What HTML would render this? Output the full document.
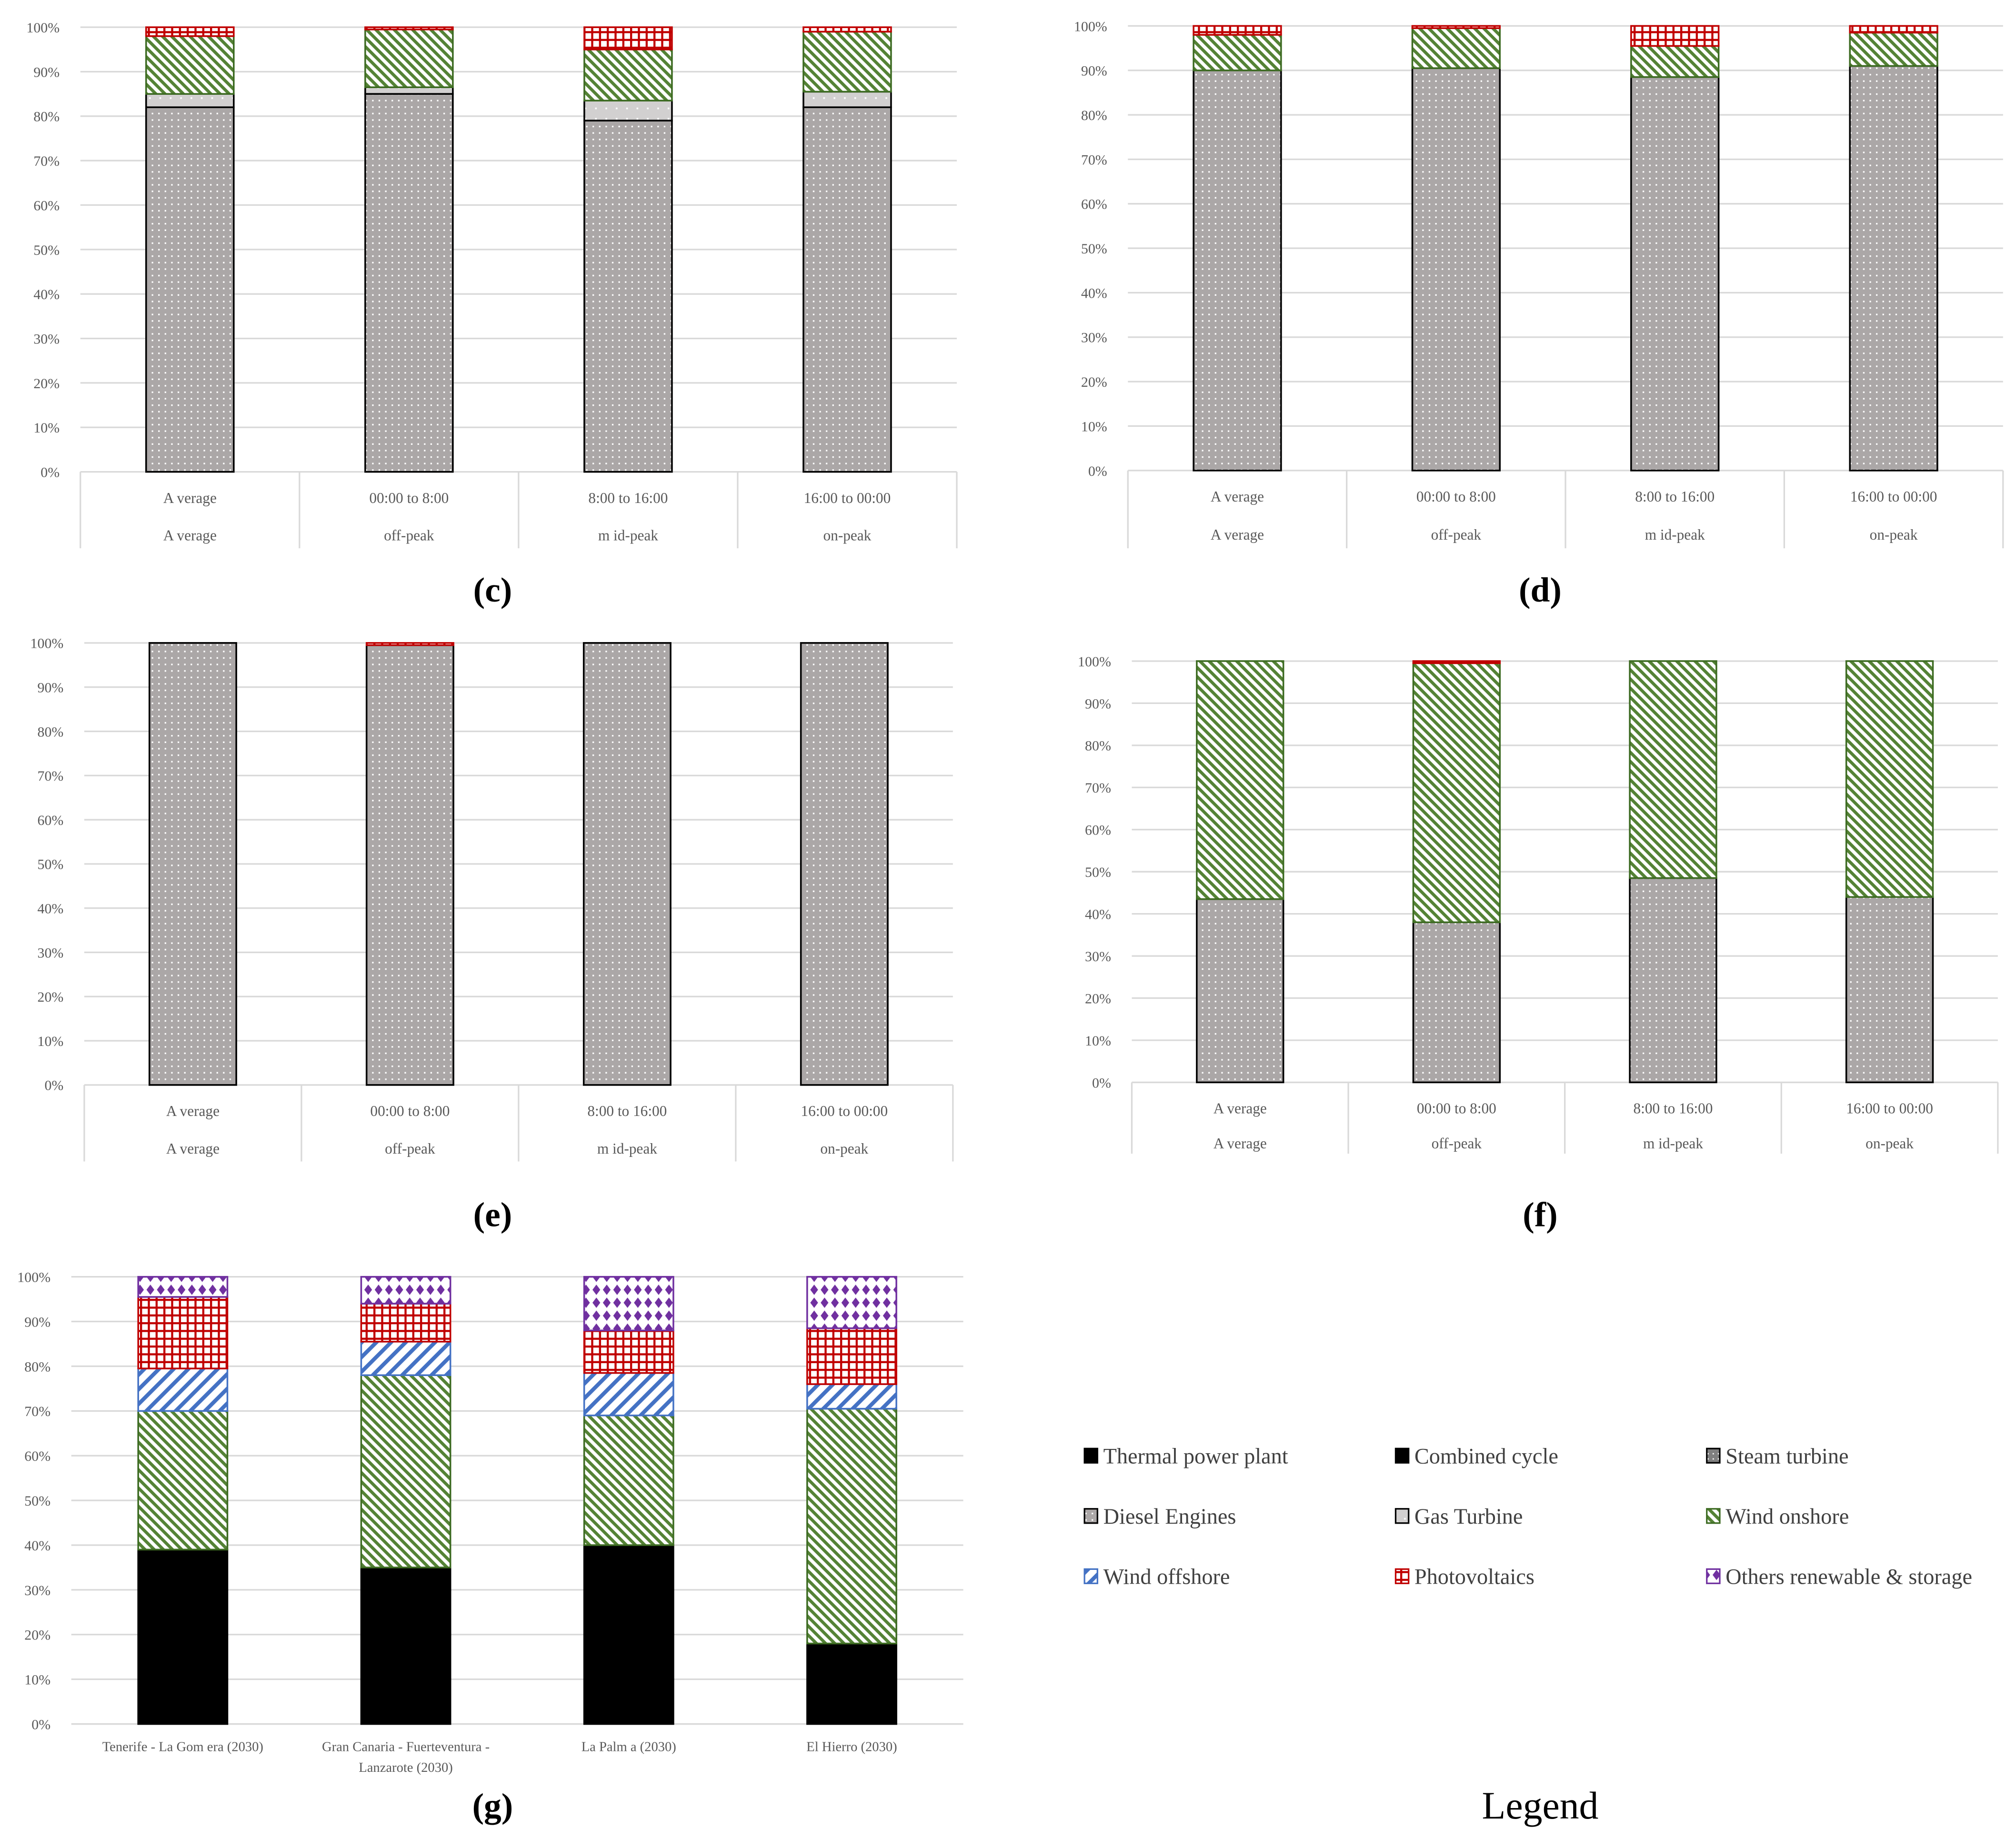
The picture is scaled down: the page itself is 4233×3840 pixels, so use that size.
<!DOCTYPE html>
<html><head><meta charset="utf-8"><style>
html,body{margin:0;padding:0;background:#fff;}
svg{display:block;}
</style></head><body>
<svg id="chart" xmlns="http://www.w3.org/2000/svg" width="4233" height="3840" viewBox="0 0 1555 1411" preserveAspectRatio="none" font-family="'Liberation Serif', serif">
<defs>
<pattern id="p-diesel" patternUnits="userSpaceOnUse" width="5" height="5"><rect width="5" height="5" fill="#aba7a7"/><rect x="2" y="2" width="1.2" height="1.2" fill="#fff"/></pattern>
<pattern id="p-gas" patternUnits="userSpaceOnUse" width="8" height="8"><rect width="8" height="8" fill="#d2d0d0"/><rect x="3" y="3" width="1.3" height="1.3" fill="#fff"/></pattern>
<pattern id="p-wind" patternUnits="userSpaceOnUse" width="5" height="5" patternTransform="rotate(45)"><rect width="5" height="5" fill="#fff"/><rect width="5" height="2.4" fill="#548235"/></pattern>
<pattern id="p-off" patternUnits="userSpaceOnUse" width="8" height="8" patternTransform="rotate(-45)"><rect width="8" height="8" fill="#fff"/><rect width="8" height="3" fill="#4472c4"/></pattern>
<pattern id="p-pv" patternUnits="userSpaceOnUse" width="6" height="6"><rect width="6" height="6" fill="#fff"/><rect width="6" height="1.6" fill="#c00000"/><rect width="1.6" height="6" fill="#c00000"/></pattern>
<pattern id="p-oth" patternUnits="userSpaceOnUse" width="8" height="10"><rect width="8" height="10" fill="#fff"/><path d="M4 1 L7 5 L4 9 L1 5 Z" fill="#7030a0"/></pattern>
<pattern id="p-steam" patternUnits="userSpaceOnUse" width="4" height="4"><rect width="4" height="4" fill="#7f7f7f"/><rect x="1" y="1" width="1" height="1" fill="#fff"/></pattern>
</defs>
<g id="panels"></g>
<g id="legend"></g>
</svg>
<script>
const yTicks = ["0%","10%","20%","30%","40%","50%","60%","70%","80%","90%","100%"];
const periodCats1 = ["A verage","00:00 to 8:00","8:00 to 16:00","16:00 to 00:00"];
const periodCats2 = ["A verage","off-peak","m id-peak","on-peak"];
const gCats = [["Tenerife - La Gom era (2030)"],["Gran Canaria - Fuerteventura -","Lanzarote (2030)"],["La Palm a (2030)"],["El Hierro (2030)"]];

const cDiesel = [82, 85, 79, 82];
const cGas = [3, 1.5, 4.5, 3.5];
const cWind = [13, 13, 11.5, 13.5];
const cPV = [2, 0.5, 5, 1];

const dDiesel = [90, 90.5, 88.5, 91];
const dWind = [8, 9, 7, 7.5];
const dPV = [2, 0.5, 4.5, 1.5];

const eDiesel = [100, 99.5, 100, 100];
const ePV = [0, 0.5, 0, 0];

const fDiesel = [43.5, 38, 48.5, 44];
const fWind = [56.5, 61.5, 51.5, 56];
const fPV = [0, 0.5, 0, 0];

const gThermal = [39, 35, 40, 18];
const gWind = [31, 43, 29, 52.5];
const gOffshore = [9.5, 7.5, 9.5, 5.5];
const gPV = [16, 8.5, 9.5, 12.5];
const gOthers = [4.5, 6, 12, 11.5];

const legendNames = ["Thermal power plant","Combined cycle","Steam turbine","Diesel Engines","Gas Turbine","Wind onshore","Wind offshore","Photovoltaics","Others renewable & storage"];

const NS = "http://www.w3.org/2000/svg";
const styles = {
  thermal:{fill:"#000",stroke:"#000"},
  combined:{fill:"#000",stroke:"#000"},
  steam:{fill:"url(#p-steam)",stroke:"#000"},
  diesel:{fill:"url(#p-diesel)",stroke:"#000"},
  gas:{fill:"url(#p-gas)",stroke:"#000"},
  wind:{fill:"url(#p-wind)",stroke:"#3d6b22"},
  off:{fill:"url(#p-off)",stroke:"#4472c4"},
  pv:{fill:"url(#p-pv)",stroke:"#c00000"},
  oth:{fill:"url(#p-oth)",stroke:"#7030a0"}
};
function mk(tag, attrs, parent){const e=document.createElementNS(NS,tag);for(const k in attrs)e.setAttribute(k,attrs[k]);parent.appendChild(e);return e;}

function drawPanel(id, L, series, cats, table, tag){
  const root=document.getElementById("panels");
  const g=mk("g",{},root);
  
  
  const yS = v => L.yBot - (L.yBot-L.yTop)*v/100;
  const band=(L.x1-L.x0)/cats.length;
  const xC = i => L.x0 + (i+0.5)*band;
  yTicks.forEach((t,i)=>{
    const y=yS(i*10);
    const gl=mk("line",{x1:L.x0,x2:L.x1,y1:y,y2:y,stroke:"#d9d9d9","stroke-width":1.2},g);
    
    
    const tx=mk("text",{x:L.x0-16,y:y+4,"text-anchor":"end","font-size":11,fill:"#595959"},g);
    tx.textContent=t;
    
    
  });
  const bw=band*0.4;
  cats.forEach((c,i)=>{
    let acc=0;
    series.forEach(s=>{
      const v=s.values[i];
      if(v<=0)return;
      const st=styles[s.key];
      const r=mk("rect",{x:xC(i)-bw/2,y:yS(acc+v),width:bw,height:yS(acc)-yS(acc+v),fill:st.fill,stroke:st.stroke,"stroke-width":1.3},g);
      
      
      acc+=v;
    });
  });
  if(table){
    const th=L.tableH;
    for(let i=0;i<=cats.length;i++){
      const x=L.x0+i*band;
      const vl=mk("line",{x1:x,x2:x,y1:L.yBot,y2:L.yBot+th,stroke:"#d9d9d9","stroke-width":1.2},g);
      
      
    }
    cats.forEach((c,i)=>{
      [c, table[i]].forEach((lbl,j)=>{
        const t=mk("text",{x:xC(i),y:L.yBot+24+j*(th*0.49),"text-anchor":"middle","font-size":11.5,fill:"#595959"},g);
        t.textContent=lbl;
        
        
      });
    });
  } else {
    cats.forEach((lines,i)=>{
      lines.forEach((lbl,j)=>{
        const t=mk("text",{x:xC(i),y:L.yBot+21+j*16,"text-anchor":"middle","font-size":10.5,fill:"#595959"},g);
        t.textContent=lbl;
        
        
      });
    });
  }
  const cap=mk("text",{x:L.capX,y:L.capY,"text-anchor":"middle","font-size":27,"font-weight":"bold",fill:"#000"},g);
  cap.textContent="("+tag+")";
  
  
}

drawPanel("c",{x0:62,x1:738,yTop:21,yBot:364,tableH:59,capX:380,capY:464},
 [{key:"diesel",values:cDiesel},{key:"gas",values:cGas},{key:"wind",values:cWind},{key:"pv",values:cPV}],
 periodCats1, periodCats2, "c");
drawPanel("d",{x0:870,x1:1545,yTop:20,yBot:363,tableH:60,capX:1188,capY:464},
 [{key:"diesel",values:dDiesel},{key:"wind",values:dWind},{key:"pv",values:dPV}],
 periodCats1, periodCats2, "d");
drawPanel("e",{x0:65,x1:735,yTop:496,yBot:837,tableH:59,capX:380,capY:946},
 [{key:"diesel",values:eDiesel},{key:"pv",values:ePV}],
 periodCats1, periodCats2, "e");
drawPanel("f",{x0:873,x1:1541,yTop:510,yBot:835,tableH:55,capX:1188,capY:946},
 [{key:"diesel",values:fDiesel},{key:"wind",values:fWind},{key:"pv",values:fPV}],
 periodCats1, periodCats2, "f");
drawPanel("g",{x0:55,x1:743,yTop:985,yBot:1330,capX:380,capY:1402},
 [{key:"thermal",values:gThermal},{key:"wind",values:gWind},{key:"off",values:gOffshore},{key:"pv",values:gPV},{key:"oth",values:gOthers}],
 gCats, null, "g");

const legendKeys=["thermal","combined","steam","diesel","gas","wind","off","pv","oth"];
const lg=document.getElementById("legend");
legendNames.forEach((n,i)=>{
  const col=i%3,row=Math.floor(i/3);
  const x=837+col*240,y=1123+row*46.5;
  const st=styles[legendKeys[i]];
  const r=mk("rect",{x:x-0.5,y:y-5.5,width:10,height:11,fill:st.fill,stroke:st.stroke,"stroke-width":1.2},lg);
  
  
  const t=mk("text",{x:x+14,y:y+6,"font-size":17,fill:"#404040"},lg);
  t.textContent=n;
  
  
});
const lt=mk("text",{x:1188,y:1403,"text-anchor":"middle","font-size":30,fill:"#000"},lg);
lt.textContent="Legend";


</script>
</body></html>
